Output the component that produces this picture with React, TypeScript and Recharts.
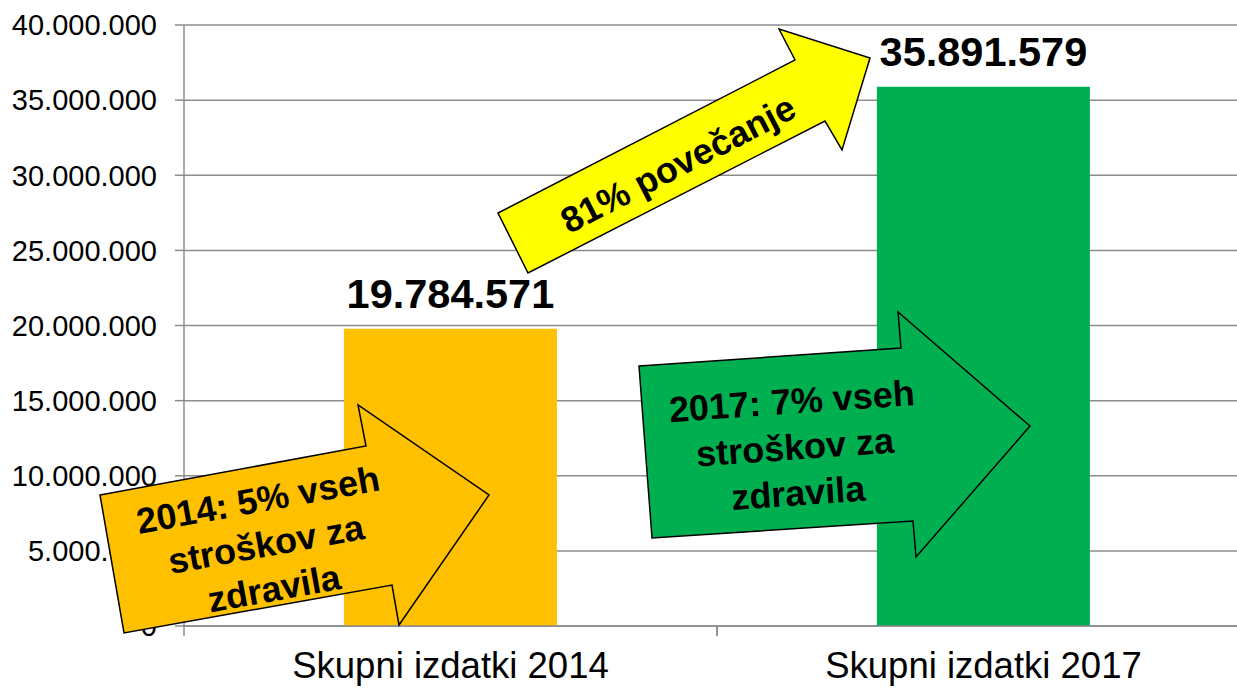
import { BarChart, Bar, XAxis, YAxis, CartesianGrid, Cell, LabelList } from "recharts";

const categories = ["Skupni izdatki 2014", "Skupni izdatki 2017"];
const izdatki = [19784571, 35891579];
const barColors = ["#FFC000", "#00B050"];
const yTicks = [0, 5000000, 10000000, 15000000, 20000000, 25000000, 30000000, 35000000, 40000000];

const arrowNotes = [
  { lines: ["2014: 5% vseh", "stroškov za", "zdravila"], fill: "#FFC000" },
  { lines: ["2017: 7% vseh", "stroškov za", "zdravila"], fill: "#00B050" },
];
const increaseNote = "81% povečanje";

const data = categories.map((name, i) => ({ name, value: izdatki[i] }));

const CHART_W = 1250;
const CHART_H = 688;
const Y_W = 184;
const HALF_BAND = (CHART_W - Y_W) / categories.length / 2;
const GRID = "#8c8c8c";

const fmt = (v: number) => String(Math.round(v)).replace(/\B(?=(\d{3})+(?!\d))/g, ".");

function CategoryTick(props: any) {
  const { x, y, payload } = props;
  return (
    <g>
      <line x1={x - HALF_BAND} y1={y} x2={x - HALF_BAND} y2={y + 10} stroke={GRID} strokeWidth={1.5} />
      <line x1={x + HALF_BAND} y1={y} x2={x + HALF_BAND} y2={y + 10} stroke={GRID} strokeWidth={1.5} />
      <text x={x} y={y + 52} textAnchor="middle" fontSize={36.5} fill="#000">
        {payload.value}
      </text>
    </g>
  );
}

// block arrows drawn on top of the chart (annotation shapes)
function Annotations() {
  const txt = { fontSize: 36, fontWeight: "bold" as const, fill: "#000", textAnchor: "middle" as const, dominantBaseline: "central" as const };
  return (
    <svg width={1237} height={688} style={{ position: "absolute", left: 0, top: 0, pointerEvents: "none" }}>
      {/* yellow increase arrow */}
      <polygon
        points="498,213 795,60 779,29 870,58 842,150 825,121 528,273"
        fill="#FFFF00"
        stroke="#000"
        strokeWidth={1.5}
      />
      <text {...txt} transform="translate(678,164) rotate(-27.3)">
        {increaseNote}
      </text>

      {/* 2014 arrow */}
      <polygon
        points="100,495 366,446 358,405 489,495 399,625 392,585 124,633"
        fill={arrowNotes[0].fill}
        stroke="#000"
        strokeWidth={1.5}
      />
      <g transform="translate(266,544) rotate(-10.3)">
        {arrowNotes[0].lines.map((l, i) => (
          <text key={i} {...txt} x={0} y={(i - 1) * 45}>
            {l}
          </text>
        ))}
      </g>

      {/* 2017 arrow */}
      <polygon
        points="639,366 901,348 898,312 1030,426 916,557 913,521 652,538"
        fill={arrowNotes[1].fill}
        stroke="#000"
        strokeWidth={1.5}
      />
      <g transform="translate(795,447) rotate(-4)">
        {arrowNotes[1].lines.map((l, i) => (
          <text key={i} {...txt} x={0} y={(i - 1) * 46}>
            {l}
          </text>
        ))}
      </g>
    </svg>
  );
}

export default function App() {
  return (
    <div
      style={{
        position: "fixed",
        left: 0,
        top: 0,
        width: 1237,
        height: 688,
        overflow: "hidden",
        background: "#fff",
        fontFamily: "'Liberation Sans', Arial, sans-serif",
      }}
    >
      <BarChart
        width={CHART_W}
        height={CHART_H}
        data={data}
        margin={{ top: 25, right: 0, left: 0, bottom: 0 }}
        barCategoryGap="30%"
      >
        <CartesianGrid vertical={false} stroke={GRID} strokeWidth={1.5} />
        <XAxis
          dataKey="name"
          axisLine={{ stroke: GRID, strokeWidth: 1.5 }}
          tickLine={false}
          tickSize={0}
          tickMargin={0}
          height={62}
          tick={<CategoryTick />}
          interval={0}
        />
        <YAxis
          width={Y_W}
          domain={[0, 40000000]}
          ticks={yTicks}
          tickFormatter={fmt}
          axisLine={{ stroke: GRID, strokeWidth: 1.5 }}
          tickLine={{ stroke: GRID, strokeWidth: 1.5 }}
          tickSize={9}
          tickMargin={18}
          tick={{ fontSize: 29, fill: "#000" }}
          interval={0}
        />
        <Bar dataKey="value" isAnimationActive={false}>
          {data.map((d, i) => (
            <Cell key={d.name} fill={barColors[i]} />
          ))}
          <LabelList
            dataKey="value"
            position="top"
            offset={21}
            formatter={(v: any) => fmt(Number(v))}
            style={{ fontSize: 41.5, fontWeight: "bold", fill: "#000" }}
          />
        </Bar>
      </BarChart>
      <Annotations />
    </div>
  );
}
